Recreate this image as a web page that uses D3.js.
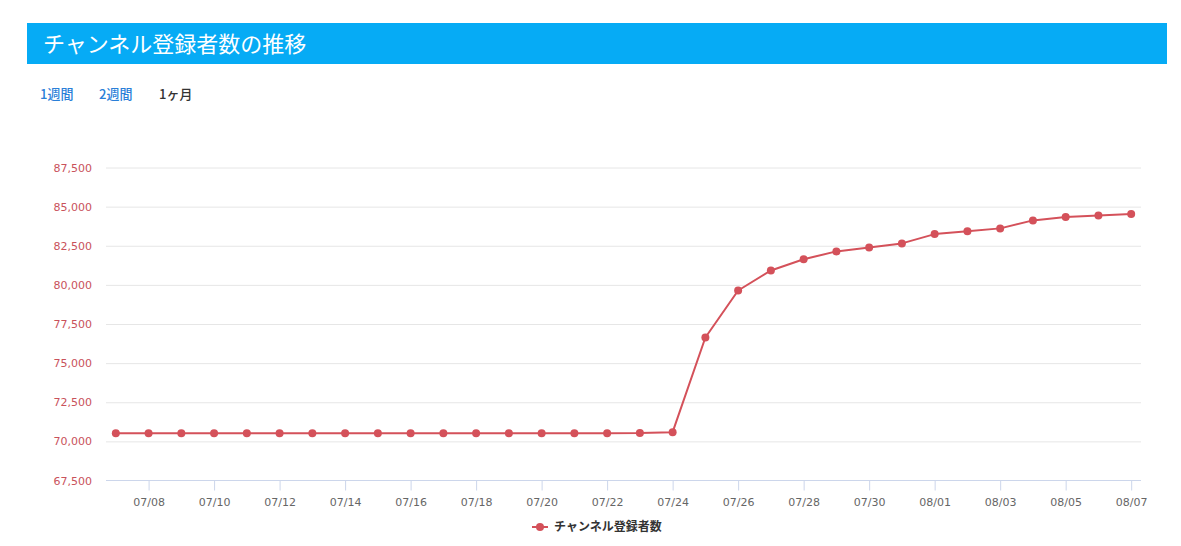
<!DOCTYPE html>
<html><head><meta charset="utf-8">
<script src="https://cdn.jsdelivr.net/npm/d3@7/dist/d3.min.js"></script>
<style>
html,body{margin:0;padding:0;background:#fff;}
svg{display:block;}
</style></head>
<body>
<svg id="chart" width="1181" height="546"></svg>
<script>
const title = "チャンネル登録者数の推移";
const tabs = ["1週間", "2週間", "1ヶ月"];
const seriesName = "チャンネル登録者数";
const dates = ["07/07","07/08","07/09","07/10","07/11","07/12","07/13","07/14","07/15","07/16",
  "07/17","07/18","07/19","07/20","07/21","07/22","07/23","07/24","07/25","07/26",
  "07/27","07/28","07/29","07/30","07/31","08/01","08/02","08/03","08/04","08/05","08/06","08/07"];
const subscribers = [70520,70520,70520,70520,70520,70520,70520,70520,70520,70520,
  70520,70520,70520,70520,70520,70520,70530,70590,76640,79640,
  80920,81640,82140,82390,82650,83245,83420,83610,84120,84330,84440,84525];
const yTicks = [67500,70000,72500,75000,77500,80000,82500,85000,87500];
const xTickLabels = ["07/08","07/10","07/12","07/14","07/16","07/18","07/20","07/22","07/24","07/26","07/28","07/30","08/01","08/03","08/05","08/07"];

(function(){
const svg = d3.select("#chart");
const font = "'DejaVu Sans', sans-serif";
const cjk = "'Noto Sans CJK JP', 'Noto Sans', sans-serif";
const lineColor = "#d4515a";

// header
svg.append("rect").attr("x",27).attr("y",23).attr("width",1140).attr("height",41).attr("fill","#06abf5");
svg.append("text").attr("x",43).attr("y",44).attr("dy","0.35em").attr("fill","#fff")
  .attr("font-family",cjk).attr("font-size",22).text(title);

// tabs
const tabX = [40, 99, 159];
svg.selectAll("text.tab").data(tabs).join("text").attr("class","tab")
  .attr("x",(d,i)=>tabX[i]).attr("y",94).attr("dy","0.35em")
  .attr("font-family",cjk).attr("font-size",13).attr("font-weight",500)
  .attr("fill",(d,i)=> i<2 ? "#2a7fd8" : "#333").text(d=>d);

const pLeft = 106, pRight = 1141, pTop = 167.5, pBottom = 480.5;
const x = d3.scalePoint().domain(dates).range([pLeft,pRight]).padding(0.3);
const y = d3.scaleLinear().domain([67500,87500]).range([pBottom,pTop]);

// grid
const yAxis = d3.axisLeft(y).tickValues(yTicks).tickSize(-(pRight-pLeft)).tickPadding(14)
  .tickFormat(d3.format(","));
const gy = svg.append("g").attr("transform",`translate(${pLeft},0)`).call(yAxis);
gy.select(".domain").remove();
gy.selectAll(".tick line").attr("stroke","#e6e6e6");
gy.selectAll(".tick text").attr("fill","#c9525b").attr("font-family",font).attr("font-size",11);
gy.selectAll(".tick").filter(d=>d===67500).select("line").remove();

// x axis
const xAxis = d3.axisBottom(x).tickValues(xTickLabels).tickSize(10).tickPadding(5);
const gx = svg.append("g").attr("transform",`translate(0,${pBottom})`).call(xAxis);
gx.select(".domain").attr("d",`M${pLeft},0H${pRight}`).attr("stroke","#ccd6eb");
gx.selectAll(".tick line").attr("stroke","#ccd6eb");
gx.selectAll(".tick text").attr("fill","#666").attr("font-family",font).attr("font-size",11).attr("dy","0.95em");

// line
const line = d3.line().x((d,i)=>x(dates[i])).y(d=>y(d));
svg.append("path").datum(subscribers).attr("d",line).attr("fill","none")
  .attr("stroke",lineColor).attr("stroke-width",2).attr("stroke-linejoin","round");
svg.selectAll("circle.pt").data(subscribers).join("circle").attr("class","pt")
  .attr("cx",(d,i)=>x(dates[i])).attr("cy",d=>y(d)).attr("r",4).attr("fill",lineColor);

// legend
const lg = svg.append("g").attr("transform","translate(532,527)");
lg.append("line").attr("x1",0).attr("x2",16).attr("y1",0).attr("y2",0).attr("stroke",lineColor).attr("stroke-width",2);
lg.append("circle").attr("cx",8).attr("cy",0).attr("r",4).attr("fill",lineColor);
lg.append("text").attr("x",22).attr("y",0).attr("dy","0.35em").attr("font-family",cjk)
  .attr("font-size",12).attr("font-weight","bold").attr("fill","#333").text(seriesName);
})();
</script>
</body></html>
